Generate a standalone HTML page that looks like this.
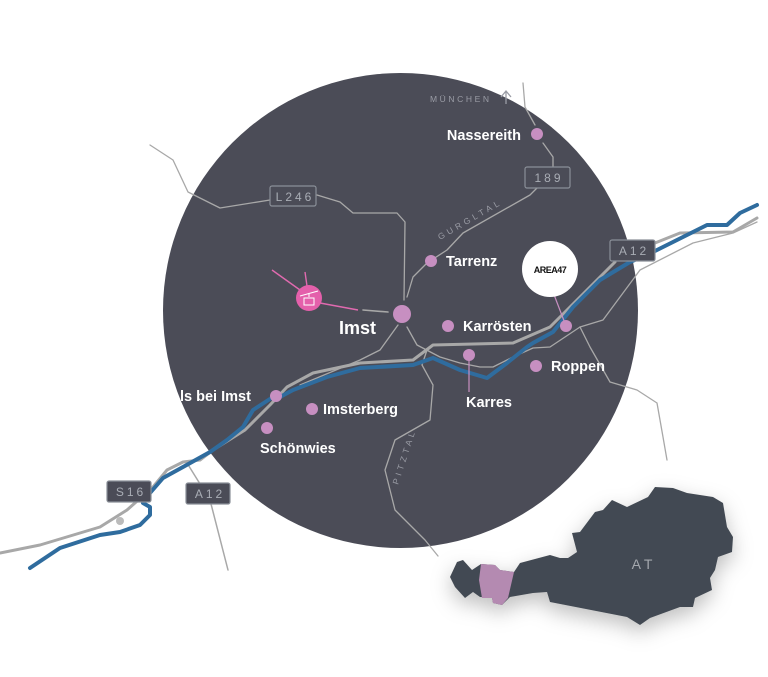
<!DOCTYPE html>
<html><head><meta charset="utf-8"><style>
html,body{margin:0;padding:0;background:#fff;}
svg{display:block;font-family:"Liberation Sans",sans-serif;}
.lbl{fill:#fff;font-weight:bold;font-size:14.5px;}
</style></head><body>
<svg width="768" height="677" viewBox="0 0 768 677" xmlns="http://www.w3.org/2000/svg">
<defs>
<filter id="sh" x="-30%" y="-30%" width="160%" height="180%"><feDropShadow dx="0" dy="8" stdDeviation="10" flood-color="#000" flood-opacity="0.25"/></filter>
</defs>
<circle cx="400.5" cy="310.5" r="237.5" fill="#4b4c57"/>
<g fill="none" stroke="#a8a8a8" stroke-linecap="round" stroke-linejoin="round">
<path d="M150,145 L173,160 L188,192 L220,208 L270,200 M317,195 L340,202 L353,213 L397,213 L405,222 L404,300" stroke-width="1.3"/>
<path d="M407,297 L413,277 L427,263 L447,250 L463,233 L530,195 L537,188 M553,167 L553,157 L543,143 M535,125 L525,107 L523,83" stroke-width="1.3"/>
<path d="M407,327 L417,345 L440,357 L460,363 L480,367 L493,367 L513,357 L533,348 L550,347 L580,327 L603,320 L640,270 L693,243 L733,233 L757,222" stroke-width="1.3"/>
<path d="M398,325 L380,350 L360,360 L300,385" stroke-width="1.3"/>
<path d="M427,350 L422,365 L433,385 L430,420 L395,440 L385,470 L395,510 L425,540 L438,556" stroke-width="1.3"/>
<path d="M580,327 L590,347 L610,382 L637,390 L657,403 L663,437 L667,460" stroke-width="1.3"/>
<path d="M187,463 L210,500 L228,570" stroke-width="1.5"/>
<path d="M363,310 L388,312" stroke-width="1.6"/>
<path d="M0,553 L40,545 L100,527 L127,510 L153,487 L167,470 L183,462 L200,460 L213,450 L245,430 L270,405 L287,387 L313,373 L360,363 L413,360 L433,345 L513,343 L550,327 L600,277 L615,262 M655,243 L680,233 L733,232 L757,218" stroke-width="3"/>
</g>
<path d="M30,568 L60,548 L100,535 L120,532 L140,525 L150,515 L150,507 L143,503 L150,493 L163,478 L183,467 L210,452 L227,440 L243,427 L253,410 L273,397 L280,397 L293,390 L327,377 L360,368 L413,365 L433,358 L460,370 L487,378 L507,363 L527,347 L533,343 L553,332 L573,307 L600,280 L630,262 L653,252 L707,225 L727,225 L740,213 L757,205" fill="none" stroke="#2f6c9e" stroke-width="4" stroke-linejoin="round" stroke-linecap="round"/>
<g font-size="12" fill="#a9adb5" text-anchor="middle" letter-spacing="3">
<rect x="270" y="186" width="46" height="20" rx="2" fill="#4b4c57" stroke="#8a8f98" stroke-width="1.2"/>
<text x="295" y="201">L246</text>
<rect x="525" y="167" width="45" height="21" rx="2" fill="#4b4c57" stroke="#8a8f98" stroke-width="1.2"/>
<text x="549" y="182">189</text>
<rect x="610" y="240" width="45" height="21" rx="2" fill="#4b4c57" stroke="#8a8f98" stroke-width="1.2"/>
<text x="634" y="255">A12</text>
<rect x="107" y="481" width="44" height="21" rx="2" fill="#4b4c57" stroke="#8a8f98" stroke-width="1.2"/>
<text x="131" y="496">S16</text>
<rect x="186" y="483" width="44" height="21" rx="2" fill="#4b4c57" stroke="#8a8f98" stroke-width="1.2"/>
<text x="210" y="498">A12</text>
</g>
<text x="430" y="102" font-size="8.5" fill="#9a9ca5" letter-spacing="2.6">MÜNCHEN</text>
<path d="M506,104 L506,92 M501,97 L506,91 L511,97" stroke="#9a9ca5" stroke-width="1.3" fill="none"/>
<text x="440" y="240" font-size="8.5" fill="#9a9ca5" letter-spacing="3.5" transform="rotate(-30 440 240)">GURGLTAL</text>
<text x="398" y="485" font-size="8.5" fill="#9a9ca5" letter-spacing="3.5" transform="rotate(-72 398 485)">PITZTAL</text>
<path d="M272,270 L300,290 M305,272 L307,286 M320,303 L358,310" stroke="#e06aaf" stroke-width="1.4"/>
<circle cx="309" cy="298" r="13" fill="#e460ab"/>
<path d="M300,296 L318,291 M309,293 L309,297 M304,298 h10 v7 h-10 z" stroke="#fff" stroke-width="1" fill="none"/>
<path d="M553,292 L566,326" stroke="#c78fc1" stroke-width="1.2"/>
<circle cx="550" cy="269" r="28" fill="#fff"/>
<text x="550" y="273" font-size="9" font-weight="bold" fill="#111" text-anchor="middle" letter-spacing="-0.5">AREA47</text>
<path d="M469,355 L469,392" stroke="#c78fc1" stroke-width="1.2"/>
<g fill="#c78fc1">
<circle cx="537" cy="134" r="6"/><circle cx="431" cy="261" r="6"/><circle cx="402" cy="314" r="9"/>
<circle cx="448" cy="326" r="6"/><circle cx="469" cy="355" r="6"/><circle cx="536" cy="366" r="6"/>
<circle cx="566" cy="326" r="6"/><circle cx="276" cy="396" r="6"/><circle cx="312" cy="409" r="6"/><circle cx="267" cy="428" r="6"/>
</g>
<circle cx="120" cy="521" r="4" fill="#bbb"/>
<text class="lbl" x="521" y="140" text-anchor="end">Nassereith</text>
<text class="lbl" x="446" y="266">Tarrenz</text>
<text class="lbl" x="339" y="334" style="font-size:18px">Imst</text>
<text class="lbl" x="463" y="331">Karrösten</text>
<text class="lbl" x="466" y="407">Karres</text>
<text class="lbl" x="551" y="371">Roppen</text>
<text class="lbl" x="180" y="401">ls bei Imst</text>
<text class="lbl" x="323" y="414">Imsterberg</text>
<text class="lbl" x="260" y="453">Schönwies</text>
<g filter="url(#sh)">
<path fill="#434a52" d="M450,577 L457,562 L463,560 L472,570 L481,564 L495,565 L500,570 L514,572 L520,563 L550,555 L560,558 L568,558 L577,552 L572,533 L580,532 L595,512 L603,510 L612,500 L627,507 L648,497 L655,487 L673,488 L687,493 L713,497 L723,503 L727,527 L733,537 L732,552 L718,557 L715,570 L710,578 L712,590 L695,598 L693,607 L680,607 L650,618 L640,625 L627,617 L550,602 L547,592 L533,593 L510,597 L502,605 L493,603 L492,598 L480,597 L473,592 L465,598 L455,587 Z"/>
<path fill="#b48ab1" d="M481,564 L495,565 L500,570 L514,572 L508,598 L502,605 L493,603 L492,598 L482,598 L479,580 Z"/>
</g>
<text x="644" y="569" font-size="14" fill="#a4a8ae" text-anchor="middle" letter-spacing="4">AT</text>
</svg>
</body></html>
